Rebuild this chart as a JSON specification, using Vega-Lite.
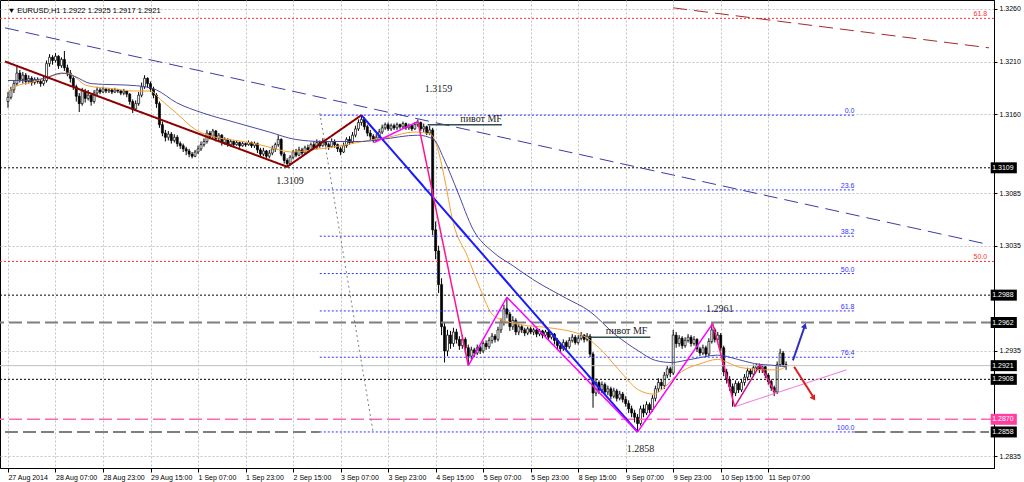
{
"$schema":"https://vega.github.io/schema/vega-lite/v6.json",
"width":994,"height":468,
"autosize":{"type":"none"},
"padding":{"left":0,"top":0,"right":30,"bottom":14},
"background":"#ffffff",
"resolve":{"scale":{"stroke":"independent","strokeDash":"independent","strokeWidth":"independent","fill":"independent"}},
"config":{"view":{"stroke":"#000000","strokeWidth":1},
"axis":{"labelFont":"Liberation Sans","labelFontSize":7,"labelColor":"#000","tickColor":"#000","domainColor":"#000","gridColor":"#c4c4c4","gridDash":[2,2],"title":null}},
"datasets":{
"bars":[
{"t":0,"o":1.3172,"h":1.3181,"l":1.3166,"c":1.3176},
{"t":1,"o":1.3176,"h":1.3186,"l":1.3174,"c":1.3183},
{"t":2,"o":1.3183,"h":1.3192,"l":1.3180,"c":1.3189},
{"t":3,"o":1.3189,"h":1.3205,"l":1.3187,"c":1.3199},
{"t":4,"o":1.3199,"h":1.3202,"l":1.3190,"c":1.3193},
{"t":5,"o":1.3193,"h":1.3200,"l":1.3189,"c":1.3197},
{"t":6,"o":1.3197,"h":1.3199,"l":1.3188,"c":1.3191},
{"t":7,"o":1.3191,"h":1.3197,"l":1.3189,"c":1.3194},
{"t":8,"o":1.3194,"h":1.3196,"l":1.3187,"c":1.3190},
{"t":9,"o":1.3190,"h":1.3195,"l":1.3188,"c":1.3193},
{"t":10,"o":1.3193,"h":1.3195,"l":1.3189,"c":1.3191},
{"t":11,"o":1.3191,"h":1.3193,"l":1.3186,"c":1.3189},
{"t":12,"o":1.3189,"h":1.3197,"l":1.3187,"c":1.3192},
{"t":13,"o":1.3192,"h":1.3211,"l":1.3190,"c":1.3208},
{"t":14,"o":1.3208,"h":1.3217,"l":1.3205,"c":1.3214},
{"t":15,"o":1.3214,"h":1.3216,"l":1.3207,"c":1.3211},
{"t":16,"o":1.3211,"h":1.3218,"l":1.3209,"c":1.3215},
{"t":17,"o":1.3215,"h":1.3216,"l":1.3203,"c":1.3206},
{"t":18,"o":1.3206,"h":1.3214,"l":1.3204,"c":1.3212},
{"t":19,"o":1.3212,"h":1.3220,"l":1.3201,"c":1.3204},
{"t":20,"o":1.3204,"h":1.3207,"l":1.3196,"c":1.3199},
{"t":21,"o":1.3199,"h":1.3202,"l":1.3190,"c":1.3194},
{"t":22,"o":1.3194,"h":1.3196,"l":1.3183,"c":1.3186},
{"t":23,"o":1.3186,"h":1.3188,"l":1.3172,"c":1.3177},
{"t":24,"o":1.3177,"h":1.3180,"l":1.3162,"c":1.3170},
{"t":25,"o":1.3170,"h":1.3185,"l":1.3168,"c":1.3182},
{"t":26,"o":1.3182,"h":1.3184,"l":1.3171,"c":1.3175},
{"t":27,"o":1.3175,"h":1.3183,"l":1.3173,"c":1.3178},
{"t":28,"o":1.3178,"h":1.3180,"l":1.3168,"c":1.3172},
{"t":29,"o":1.3172,"h":1.3183,"l":1.3170,"c":1.3180},
{"t":30,"o":1.3180,"h":1.3186,"l":1.3178,"c":1.3183},
{"t":31,"o":1.3183,"h":1.3185,"l":1.3179,"c":1.3181},
{"t":32,"o":1.3181,"h":1.3186,"l":1.3180,"c":1.3184},
{"t":33,"o":1.3184,"h":1.3185,"l":1.3180,"c":1.3182},
{"t":34,"o":1.3182,"h":1.3185,"l":1.3180,"c":1.3183},
{"t":35,"o":1.3183,"h":1.3184,"l":1.3179,"c":1.3181},
{"t":36,"o":1.3181,"h":1.3185,"l":1.3180,"c":1.3183},
{"t":37,"o":1.3183,"h":1.3184,"l":1.3180,"c":1.3182},
{"t":38,"o":1.3182,"h":1.3183,"l":1.3178,"c":1.3180},
{"t":39,"o":1.3180,"h":1.3184,"l":1.3178,"c":1.3182},
{"t":40,"o":1.3182,"h":1.3183,"l":1.3176,"c":1.3179},
{"t":41,"o":1.3179,"h":1.3180,"l":1.3169,"c":1.3172},
{"t":42,"o":1.3172,"h":1.3174,"l":1.3161,"c":1.3165},
{"t":43,"o":1.3165,"h":1.3173,"l":1.3163,"c":1.3170},
{"t":44,"o":1.3170,"h":1.3181,"l":1.3168,"c":1.3178},
{"t":45,"o":1.3178,"h":1.3190,"l":1.3176,"c":1.3186},
{"t":46,"o":1.3186,"h":1.3197,"l":1.3184,"c":1.3194},
{"t":47,"o":1.3194,"h":1.3195,"l":1.3185,"c":1.3189},
{"t":48,"o":1.3189,"h":1.3191,"l":1.3181,"c":1.3184},
{"t":49,"o":1.3184,"h":1.3186,"l":1.3175,"c":1.3178},
{"t":50,"o":1.3178,"h":1.3180,"l":1.3166,"c":1.3170},
{"t":51,"o":1.3170,"h":1.3172,"l":1.3147,"c":1.3150},
{"t":52,"o":1.3150,"h":1.3153,"l":1.3139,"c":1.3142},
{"t":53,"o":1.3142,"h":1.3145,"l":1.3134,"c":1.3138},
{"t":54,"o":1.3138,"h":1.3144,"l":1.3135,"c":1.3141},
{"t":55,"o":1.3141,"h":1.3143,"l":1.3132,"c":1.3135},
{"t":56,"o":1.3135,"h":1.3141,"l":1.3133,"c":1.3138},
{"t":57,"o":1.3138,"h":1.3140,"l":1.3129,"c":1.3132},
{"t":58,"o":1.3132,"h":1.3134,"l":1.3127,"c":1.3130},
{"t":59,"o":1.3130,"h":1.3132,"l":1.3124,"c":1.3127},
{"t":60,"o":1.3127,"h":1.3129,"l":1.3121,"c":1.3125},
{"t":61,"o":1.3125,"h":1.3127,"l":1.3119,"c":1.3122},
{"t":62,"o":1.3122,"h":1.3124,"l":1.3118,"c":1.3120},
{"t":63,"o":1.3120,"h":1.3126,"l":1.3119,"c":1.3124},
{"t":64,"o":1.3124,"h":1.3130,"l":1.3122,"c":1.3127},
{"t":65,"o":1.3127,"h":1.3134,"l":1.3125,"c":1.3131},
{"t":66,"o":1.3131,"h":1.3137,"l":1.3129,"c":1.3134},
{"t":67,"o":1.3134,"h":1.3145,"l":1.3132,"c":1.3142},
{"t":68,"o":1.3142,"h":1.3144,"l":1.3136,"c":1.3139},
{"t":69,"o":1.3139,"h":1.3146,"l":1.3137,"c":1.3144},
{"t":70,"o":1.3144,"h":1.3145,"l":1.3134,"c":1.3137},
{"t":71,"o":1.3137,"h":1.3142,"l":1.3134,"c":1.3140},
{"t":72,"o":1.3140,"h":1.3141,"l":1.3130,"c":1.3133},
{"t":73,"o":1.3133,"h":1.3138,"l":1.3131,"c":1.3136},
{"t":74,"o":1.3136,"h":1.3137,"l":1.3129,"c":1.3131},
{"t":75,"o":1.3131,"h":1.3136,"l":1.3129,"c":1.3134},
{"t":76,"o":1.3134,"h":1.3135,"l":1.3129,"c":1.3131},
{"t":77,"o":1.3131,"h":1.3135,"l":1.3130,"c":1.3133},
{"t":78,"o":1.3133,"h":1.3134,"l":1.3128,"c":1.3130},
{"t":79,"o":1.3130,"h":1.3134,"l":1.3129,"c":1.3132},
{"t":80,"o":1.3132,"h":1.3133,"l":1.3129,"c":1.3131},
{"t":81,"o":1.3131,"h":1.3135,"l":1.3130,"c":1.3133},
{"t":82,"o":1.3133,"h":1.3134,"l":1.3128,"c":1.3130},
{"t":83,"o":1.3130,"h":1.3134,"l":1.3128,"c":1.3132},
{"t":84,"o":1.3132,"h":1.3133,"l":1.3123,"c":1.3126},
{"t":85,"o":1.3126,"h":1.3128,"l":1.3119,"c":1.3122},
{"t":86,"o":1.3122,"h":1.3128,"l":1.3120,"c":1.3125},
{"t":87,"o":1.3125,"h":1.3126,"l":1.3117,"c":1.3120},
{"t":88,"o":1.3120,"h":1.3126,"l":1.3118,"c":1.3123},
{"t":89,"o":1.3123,"h":1.3130,"l":1.3121,"c":1.3127},
{"t":90,"o":1.3127,"h":1.3133,"l":1.3124,"c":1.3131},
{"t":91,"o":1.3131,"h":1.3140,"l":1.3129,"c":1.3136},
{"t":92,"o":1.3136,"h":1.3137,"l":1.3120,"c":1.3122},
{"t":93,"o":1.3122,"h":1.3124,"l":1.3113,"c":1.3116},
{"t":94,"o":1.3116,"h":1.3118,"l":1.3109,"c":1.3113},
{"t":95,"o":1.3113,"h":1.3121,"l":1.3111,"c":1.3119},
{"t":96,"o":1.3119,"h":1.3126,"l":1.3117,"c":1.3124},
{"t":97,"o":1.3124,"h":1.3127,"l":1.3119,"c":1.3121},
{"t":98,"o":1.3121,"h":1.3129,"l":1.3120,"c":1.3126},
{"t":99,"o":1.3126,"h":1.3128,"l":1.3121,"c":1.3123},
{"t":100,"o":1.3123,"h":1.3130,"l":1.3121,"c":1.3128},
{"t":101,"o":1.3128,"h":1.3131,"l":1.3124,"c":1.3126},
{"t":102,"o":1.3126,"h":1.3133,"l":1.3125,"c":1.3131},
{"t":103,"o":1.3131,"h":1.3134,"l":1.3126,"c":1.3128},
{"t":104,"o":1.3128,"h":1.3136,"l":1.3127,"c":1.3133},
{"t":105,"o":1.3133,"h":1.3135,"l":1.3128,"c":1.3130},
{"t":106,"o":1.3130,"h":1.3137,"l":1.3129,"c":1.3134},
{"t":107,"o":1.3134,"h":1.3136,"l":1.3129,"c":1.3131},
{"t":108,"o":1.3131,"h":1.3133,"l":1.3126,"c":1.3129},
{"t":109,"o":1.3129,"h":1.3137,"l":1.3128,"c":1.3134},
{"t":110,"o":1.3134,"h":1.3136,"l":1.3128,"c":1.3131},
{"t":111,"o":1.3131,"h":1.3132,"l":1.3124,"c":1.3127},
{"t":112,"o":1.3127,"h":1.3129,"l":1.3121,"c":1.3124},
{"t":113,"o":1.3124,"h":1.3133,"l":1.3123,"c":1.3130},
{"t":114,"o":1.3130,"h":1.3138,"l":1.3128,"c":1.3136},
{"t":115,"o":1.3136,"h":1.3139,"l":1.3131,"c":1.3133},
{"t":116,"o":1.3133,"h":1.3143,"l":1.3132,"c":1.3140},
{"t":117,"o":1.3140,"h":1.3149,"l":1.3138,"c":1.3146},
{"t":118,"o":1.3146,"h":1.3155,"l":1.3144,"c":1.3152},
{"t":119,"o":1.3152,"h":1.3159,"l":1.3149,"c":1.3155},
{"t":120,"o":1.3155,"h":1.3157,"l":1.3145,"c":1.3148},
{"t":121,"o":1.3148,"h":1.3150,"l":1.3139,"c":1.3142},
{"t":122,"o":1.3142,"h":1.3145,"l":1.3135,"c":1.3139},
{"t":123,"o":1.3139,"h":1.3141,"l":1.3133,"c":1.3135},
{"t":124,"o":1.3135,"h":1.3141,"l":1.3134,"c":1.3138},
{"t":125,"o":1.3138,"h":1.3146,"l":1.3136,"c":1.3143},
{"t":126,"o":1.3143,"h":1.3150,"l":1.3141,"c":1.3147},
{"t":127,"o":1.3147,"h":1.3152,"l":1.3145,"c":1.3150},
{"t":128,"o":1.3150,"h":1.3152,"l":1.3144,"c":1.3146},
{"t":129,"o":1.3146,"h":1.3151,"l":1.3144,"c":1.3149},
{"t":130,"o":1.3149,"h":1.3151,"l":1.3145,"c":1.3147},
{"t":131,"o":1.3147,"h":1.3152,"l":1.3145,"c":1.3150},
{"t":132,"o":1.3150,"h":1.3151,"l":1.3146,"c":1.3148},
{"t":133,"o":1.3148,"h":1.3153,"l":1.3146,"c":1.3151},
{"t":134,"o":1.3151,"h":1.3152,"l":1.3145,"c":1.3147},
{"t":135,"o":1.3147,"h":1.3151,"l":1.3145,"c":1.3149},
{"t":136,"o":1.3149,"h":1.3150,"l":1.3144,"c":1.3146},
{"t":137,"o":1.3146,"h":1.3152,"l":1.3145,"c":1.3150},
{"t":138,"o":1.3150,"h":1.3155,"l":1.3148,"c":1.3152},
{"t":139,"o":1.3152,"h":1.3153,"l":1.3144,"c":1.3146},
{"t":140,"o":1.3146,"h":1.3151,"l":1.3143,"c":1.3148},
{"t":141,"o":1.3148,"h":1.3149,"l":1.3140,"c":1.3142},
{"t":142,"o":1.3142,"h":1.3149,"l":1.3140,"c":1.3145},
{"t":143,"o":1.3145,"h":1.3147,"l":1.3045,"c":1.3050},
{"t":144,"o":1.3050,"h":1.3058,"l":1.3022,"c":1.3030},
{"t":145,"o":1.3030,"h":1.3035,"l":1.2990,"c":1.2998},
{"t":146,"o":1.2998,"h":1.3004,"l":1.2950,"c":1.2958},
{"t":147,"o":1.2958,"h":1.2962,"l":1.2924,"c":1.2935},
{"t":148,"o":1.2935,"h":1.2955,"l":1.2930,"c":1.2950},
{"t":149,"o":1.2950,"h":1.2954,"l":1.2937,"c":1.2942},
{"t":150,"o":1.2942,"h":1.2957,"l":1.2939,"c":1.2953},
{"t":151,"o":1.2953,"h":1.2956,"l":1.2942,"c":1.2946},
{"t":152,"o":1.2946,"h":1.2949,"l":1.2936,"c":1.2940},
{"t":153,"o":1.2940,"h":1.2950,"l":1.2937,"c":1.2946},
{"t":154,"o":1.2946,"h":1.2948,"l":1.2933,"c":1.2938},
{"t":155,"o":1.2938,"h":1.2941,"l":1.2921,"c":1.2930},
{"t":156,"o":1.2930,"h":1.2939,"l":1.2927,"c":1.2936},
{"t":157,"o":1.2936,"h":1.2938,"l":1.2929,"c":1.2933},
{"t":158,"o":1.2933,"h":1.2941,"l":1.2931,"c":1.2938},
{"t":159,"o":1.2938,"h":1.2940,"l":1.2932,"c":1.2935},
{"t":160,"o":1.2935,"h":1.2944,"l":1.2933,"c":1.2942},
{"t":161,"o":1.2942,"h":1.2945,"l":1.2936,"c":1.2939},
{"t":162,"o":1.2939,"h":1.2948,"l":1.2937,"c":1.2945},
{"t":163,"o":1.2945,"h":1.2952,"l":1.2942,"c":1.2949},
{"t":164,"o":1.2949,"h":1.2951,"l":1.2943,"c":1.2946},
{"t":165,"o":1.2946,"h":1.2958,"l":1.2944,"c":1.2955},
{"t":166,"o":1.2955,"h":1.2966,"l":1.2952,"c":1.2962},
{"t":167,"o":1.2962,"h":1.2979,"l":1.2959,"c":1.2975},
{"t":168,"o":1.2975,"h":1.2986,"l":1.2966,"c":1.2970},
{"t":169,"o":1.2970,"h":1.2972,"l":1.2954,"c":1.2958},
{"t":170,"o":1.2958,"h":1.2968,"l":1.2955,"c":1.2964},
{"t":171,"o":1.2964,"h":1.2966,"l":1.2950,"c":1.2953},
{"t":172,"o":1.2953,"h":1.2961,"l":1.2950,"c":1.2958},
{"t":173,"o":1.2958,"h":1.2960,"l":1.2952,"c":1.2955},
{"t":174,"o":1.2955,"h":1.2957,"l":1.2949,"c":1.2952},
{"t":175,"o":1.2952,"h":1.2958,"l":1.2950,"c":1.2956},
{"t":176,"o":1.2956,"h":1.2958,"l":1.2951,"c":1.2953},
{"t":177,"o":1.2953,"h":1.2957,"l":1.2950,"c":1.2955},
{"t":178,"o":1.2955,"h":1.2956,"l":1.2948,"c":1.2951},
{"t":179,"o":1.2951,"h":1.2956,"l":1.2949,"c":1.2954},
{"t":180,"o":1.2954,"h":1.2955,"l":1.2947,"c":1.2950},
{"t":181,"o":1.2950,"h":1.2955,"l":1.2948,"c":1.2953},
{"t":182,"o":1.2953,"h":1.2954,"l":1.2945,"c":1.2948},
{"t":183,"o":1.2948,"h":1.2953,"l":1.2946,"c":1.2951},
{"t":184,"o":1.2951,"h":1.2952,"l":1.2941,"c":1.2945},
{"t":185,"o":1.2945,"h":1.2947,"l":1.2936,"c":1.2940},
{"t":186,"o":1.2940,"h":1.2942,"l":1.2933,"c":1.2937},
{"t":187,"o":1.2937,"h":1.2946,"l":1.2935,"c":1.2943},
{"t":188,"o":1.2943,"h":1.2945,"l":1.2936,"c":1.2939},
{"t":189,"o":1.2939,"h":1.2948,"l":1.2937,"c":1.2945},
{"t":190,"o":1.2945,"h":1.2951,"l":1.2943,"c":1.2948},
{"t":191,"o":1.2948,"h":1.2950,"l":1.2941,"c":1.2943},
{"t":192,"o":1.2943,"h":1.2950,"l":1.2941,"c":1.2947},
{"t":193,"o":1.2947,"h":1.2953,"l":1.2945,"c":1.2950},
{"t":194,"o":1.2950,"h":1.2951,"l":1.2943,"c":1.2946},
{"t":195,"o":1.2946,"h":1.2952,"l":1.2944,"c":1.2949},
{"t":196,"o":1.2949,"h":1.2951,"l":1.2929,"c":1.2932},
{"t":197,"o":1.2932,"h":1.2934,"l":1.2881,"c":1.2895},
{"t":198,"o":1.2895,"h":1.2909,"l":1.2892,"c":1.2905},
{"t":199,"o":1.2905,"h":1.2907,"l":1.2894,"c":1.2898},
{"t":200,"o":1.2898,"h":1.2906,"l":1.2895,"c":1.2903},
{"t":201,"o":1.2903,"h":1.2905,"l":1.2893,"c":1.2896},
{"t":202,"o":1.2896,"h":1.2902,"l":1.2893,"c":1.2899},
{"t":203,"o":1.2899,"h":1.2901,"l":1.2889,"c":1.2892},
{"t":204,"o":1.2892,"h":1.2900,"l":1.2890,"c":1.2897},
{"t":205,"o":1.2897,"h":1.2899,"l":1.2887,"c":1.2890},
{"t":206,"o":1.2890,"h":1.2897,"l":1.2888,"c":1.2894},
{"t":207,"o":1.2894,"h":1.2896,"l":1.2886,"c":1.2889},
{"t":208,"o":1.2889,"h":1.2892,"l":1.2882,"c":1.2885},
{"t":209,"o":1.2885,"h":1.2888,"l":1.2876,"c":1.2880},
{"t":210,"o":1.2880,"h":1.2883,"l":1.2872,"c":1.2876},
{"t":211,"o":1.2876,"h":1.2879,"l":1.2867,"c":1.2872},
{"t":212,"o":1.2872,"h":1.2875,"l":1.2858,"c":1.2866},
{"t":213,"o":1.2866,"h":1.2883,"l":1.2864,"c":1.2880},
{"t":214,"o":1.2880,"h":1.2884,"l":1.2872,"c":1.2876},
{"t":215,"o":1.2876,"h":1.2887,"l":1.2874,"c":1.2884},
{"t":216,"o":1.2884,"h":1.2886,"l":1.2876,"c":1.2879},
{"t":217,"o":1.2879,"h":1.2893,"l":1.2877,"c":1.2890},
{"t":218,"o":1.2890,"h":1.2902,"l":1.2887,"c":1.2899},
{"t":219,"o":1.2899,"h":1.2909,"l":1.2896,"c":1.2905},
{"t":220,"o":1.2905,"h":1.2908,"l":1.2898,"c":1.2902},
{"t":221,"o":1.2902,"h":1.2915,"l":1.2899,"c":1.2912},
{"t":222,"o":1.2912,"h":1.2921,"l":1.2909,"c":1.2918},
{"t":223,"o":1.2918,"h":1.2920,"l":1.2910,"c":1.2914},
{"t":224,"o":1.2914,"h":1.2955,"l":1.2912,"c":1.2950},
{"t":225,"o":1.2950,"h":1.2953,"l":1.2938,"c":1.2942},
{"t":226,"o":1.2942,"h":1.2950,"l":1.2939,"c":1.2947},
{"t":227,"o":1.2947,"h":1.2949,"l":1.2937,"c":1.2940},
{"t":228,"o":1.2940,"h":1.2948,"l":1.2938,"c":1.2945},
{"t":229,"o":1.2945,"h":1.2951,"l":1.2943,"c":1.2948},
{"t":230,"o":1.2948,"h":1.2950,"l":1.2939,"c":1.2942},
{"t":231,"o":1.2942,"h":1.2949,"l":1.2940,"c":1.2946},
{"t":232,"o":1.2946,"h":1.2947,"l":1.2934,"c":1.2937},
{"t":233,"o":1.2937,"h":1.2939,"l":1.2930,"c":1.2933},
{"t":234,"o":1.2933,"h":1.2941,"l":1.2931,"c":1.2938},
{"t":235,"o":1.2938,"h":1.2940,"l":1.2929,"c":1.2932},
{"t":236,"o":1.2932,"h":1.2947,"l":1.2930,"c":1.2944},
{"t":237,"o":1.2944,"h":1.2961,"l":1.2942,"c":1.2955},
{"t":238,"o":1.2955,"h":1.2957,"l":1.2943,"c":1.2946},
{"t":239,"o":1.2946,"h":1.2953,"l":1.2943,"c":1.2950},
{"t":240,"o":1.2950,"h":1.2952,"l":1.2935,"c":1.2938},
{"t":241,"o":1.2938,"h":1.2940,"l":1.2911,"c":1.2915},
{"t":242,"o":1.2915,"h":1.2918,"l":1.2904,"c":1.2908},
{"t":243,"o":1.2908,"h":1.2911,"l":1.2897,"c":1.2901},
{"t":244,"o":1.2901,"h":1.2904,"l":1.2882,"c":1.2895},
{"t":245,"o":1.2895,"h":1.2907,"l":1.2892,"c":1.2904},
{"t":246,"o":1.2904,"h":1.2906,"l":1.2895,"c":1.2898},
{"t":247,"o":1.2898,"h":1.2908,"l":1.2896,"c":1.2905},
{"t":248,"o":1.2905,"h":1.2913,"l":1.2902,"c":1.2910},
{"t":249,"o":1.2910,"h":1.2919,"l":1.2907,"c":1.2916},
{"t":250,"o":1.2916,"h":1.2918,"l":1.2910,"c":1.2913},
{"t":251,"o":1.2913,"h":1.2922,"l":1.2911,"c":1.2919},
{"t":252,"o":1.2919,"h":1.2923,"l":1.2916,"c":1.2921},
{"t":253,"o":1.2921,"h":1.2923,"l":1.2914,"c":1.2917},
{"t":254,"o":1.2917,"h":1.2922,"l":1.2914,"c":1.2920},
{"t":255,"o":1.2920,"h":1.2921,"l":1.2909,"c":1.2912},
{"t":256,"o":1.2912,"h":1.2914,"l":1.2903,"c":1.2906},
{"t":257,"o":1.2906,"h":1.2908,"l":1.2897,"c":1.2900},
{"t":258,"o":1.2900,"h":1.2902,"l":1.2892,"c":1.2896},
{"t":259,"o":1.2896,"h":1.2925,"l":1.2894,"c":1.2922},
{"t":260,"o":1.2922,"h":1.2937,"l":1.2920,"c":1.2933},
{"t":261,"o":1.2933,"h":1.2935,"l":1.2920,"c":1.2922},
{"t":262,"o":1.2922,"h":1.2925,"l":1.2917,"c":1.2921}
],
"ma":[
{"t":0,"p":1.3181,"s":"fast"},{"t":2.3,"p":1.3186,"s":"fast"},{"t":9,"p":1.3191,"s":"fast"},{"t":15.7,"p":1.3197,"s":"fast"},{"t":20,"p":1.3199,"s":"fast"},{"t":26.7,"p":1.3187,"s":"fast"},{"t":35.7,"p":1.3184,"s":"fast"},{"t":42.3,"p":1.3182,"s":"fast"},{"t":48,"p":1.3182,"s":"fast"},{"t":51.3,"p":1.3174,"s":"fast"},{"t":56.7,"p":1.3161,"s":"fast"},{"t":63.3,"p":1.3145,"s":"fast"},{"t":70,"p":1.3138,"s":"fast"},{"t":76.7,"p":1.3135,"s":"fast"},{"t":83.3,"p":1.3132,"s":"fast"},{"t":90,"p":1.3127,"s":"fast"},{"t":95.7,"p":1.3124,"s":"fast"},{"t":102.3,"p":1.3126,"s":"fast"},{"t":110,"p":1.3129,"s":"fast"},{"t":121.3,"p":1.3135,"s":"fast"},{"t":128,"p":1.3138,"s":"fast"},{"t":136.7,"p":1.3143,"s":"fast"},{"t":142.3,"p":1.3141,"s":"fast"},{"t":144.7,"p":1.3127,"s":"fast"},{"t":146.7,"p":1.3103,"s":"fast"},{"t":150,"p":1.3056,"s":"fast"},{"t":154.7,"p":1.3025,"s":"fast"},{"t":159,"p":1.2994,"s":"fast"},{"t":163.3,"p":1.2969,"s":"fast"},{"t":168,"p":1.2963,"s":"fast"},{"t":172.3,"p":1.2960,"s":"fast"},{"t":182.3,"p":1.2957,"s":"fast"},{"t":193.3,"p":1.2950,"s":"fast"},{"t":199,"p":1.2938,"s":"fast"},{"t":205.7,"p":1.2917,"s":"fast"},{"t":212.3,"p":1.2898,"s":"fast"},{"t":217.3,"p":1.2894,"s":"fast"},{"t":221.3,"p":1.2901,"s":"fast"},{"t":225.7,"p":1.2913,"s":"fast"},{"t":230,"p":1.2920,"s":"fast"},{"t":232.3,"p":1.2922,"s":"fast"},{"t":239,"p":1.2927,"s":"fast"},{"t":242.3,"p":1.2924,"s":"fast"},{"t":245.7,"p":1.2920,"s":"fast"},{"t":250,"p":1.2918,"s":"fast"},{"t":254.7,"p":1.2917,"s":"fast"},{"t":259,"p":1.2917,"s":"fast"},{"t":262,"p":1.2920,"s":"fast"},
{"t":0,"p":1.3192,"s":"slow"},{"t":5.7,"p":1.3192,"s":"slow"},{"t":12.3,"p":1.3194,"s":"slow"},{"t":18,"p":1.3199,"s":"slow"},{"t":22.3,"p":1.3196,"s":"slow"},{"t":28,"p":1.3189,"s":"slow"},{"t":43.3,"p":1.3187,"s":"slow"},{"t":50,"p":1.3183,"s":"slow"},{"t":56.7,"p":1.3171,"s":"slow"},{"t":65.7,"p":1.3161,"s":"slow"},{"t":76.7,"p":1.3152,"s":"slow"},{"t":88,"p":1.3143,"s":"slow"},{"t":96.7,"p":1.3136,"s":"slow"},{"t":105.7,"p":1.3134,"s":"slow"},{"t":119,"p":1.3134,"s":"slow"},{"t":125.7,"p":1.3136,"s":"slow"},{"t":138,"p":1.3140,"s":"slow"},{"t":143.3,"p":1.3136,"s":"slow"},{"t":146.7,"p":1.3118,"s":"slow"},{"t":151.3,"p":1.3087,"s":"slow"},{"t":156.7,"p":1.3050,"s":"slow"},{"t":163.3,"p":1.3029,"s":"slow"},{"t":170,"p":1.3016,"s":"slow"},{"t":176.7,"p":1.3003,"s":"slow"},{"t":188,"p":1.2985,"s":"slow"},{"t":195.7,"p":1.2973,"s":"slow"},{"t":204.7,"p":1.2950,"s":"slow"},{"t":212.3,"p":1.2935,"s":"slow"},{"t":218,"p":1.2926,"s":"slow"},{"t":223.3,"p":1.2924,"s":"slow"},{"t":230,"p":1.2927,"s":"slow"},{"t":239,"p":1.2931,"s":"slow"},{"t":245.7,"p":1.2927,"s":"slow"},{"t":251.3,"p":1.2923,"s":"slow"},{"t":259,"p":1.2921,"s":"slow"},{"t":262,"p":1.2920,"s":"slow"}
],
"levels":[
{"p":1.3251,"g":"rd"},{"p":1.3020,"g":"rd"},{"p":1.3109,"g":"kd"},{"p":1.2988,"g":"kd"},{"p":1.2908,"g":"kd"},{"p":1.2962,"g":"gd"},{"p":1.2870,"g":"pd"},{"p":1.2921,"g":"bid"}
],
"seg":[
{"t":-1,"p":1.2858,"t2":105,"p2":1.2858,"g":"gd"},
{"t":285,"p":1.2858,"t2":330.33,"p2":1.2858,"g":"gd"},
{"t":105,"p":1.3159,"t2":285,"p2":1.3159,"g":"fb"},
{"t":105,"p":1.3088,"t2":285,"p2":1.3088,"g":"fb"},
{"t":105,"p":1.3044,"t2":285,"p2":1.3044,"g":"fb"},
{"t":105,"p":1.30085,"t2":285,"p2":1.30085,"g":"fb"},
{"t":105,"p":1.2973,"t2":285,"p2":1.2973,"g":"fb"},
{"t":105,"p":1.2929,"t2":285,"p2":1.2929,"g":"fb"},
{"t":105,"p":1.2858,"t2":285,"p2":1.2858,"g":"fb"},
{"t":105,"p":1.3161,"t2":123,"p2":1.2857,"g":"fd"},
{"t":-1,"p":1.3242,"t2":330.33,"p2":1.3036,"g":"cb"},
{"t":224,"p":1.3261,"t2":330.33,"p2":1.3223,"g":"cr"},
{"t":-1,"p":1.3210,"t2":94,"p2":1.3110,"g":"tr"},
{"t":94,"p":1.3110,"t2":119,"p2":1.3159,"g":"tr"},
{"t":119,"p":1.3159,"t2":212,"p2":1.2858,"g":"tb"},
{"t":123.3,"p":1.3133,"t2":138,"p2":1.3153,"g":"mg"},
{"t":138,"p":1.3153,"t2":155,"p2":1.2921,"g":"pk"},
{"t":155,"p":1.2921,"t2":168,"p2":1.2986,"g":"mg"},
{"t":168,"p":1.2986,"t2":212,"p2":1.2858,"g":"mg"},
{"t":212,"p":1.2858,"t2":237.3,"p2":1.2961,"g":"mg"},
{"t":237.3,"p":1.2961,"t2":244.7,"p2":1.2882,"g":"pk"},
{"t":244.7,"p":1.2882,"t2":253.3,"p2":1.2922,"g":"pu"},
{"t":253.3,"p":1.2922,"t2":258.3,"p2":1.2895,"g":"pk"},
{"t":244.7,"p":1.2882,"t2":282.3,"p2":1.2917,"g":"sp"},
{"t":141.3,"p":1.3150,"t2":166.3,"p2":1.3150,"g":"pv"},
{"t":195.3,"p":1.2948,"t2":216.3,"p2":1.2948,"g":"pv"},
{"t":264.3,"p":1.2926,"t2":268.1,"p2":1.2957,"g":"au"},
{"t":264.7,"p":1.2920,"t2":271,"p2":1.2892,"g":"ad"}
],
"notes":[
{"t":145,"p":1.3184,"lab":"1.3159"},{"t":95,"p":1.3096,"lab":"1.3109"},{"t":239.7,"p":1.2975,"lab":"1.2961"},{"t":213,"p":1.2842,"lab":"1.2858"},{"t":159.3,"p":1.3155,"lab":"пивот MF"},{"t":208.3,"p":1.2954,"lab":"пивот MF"}
],
"fiblab":[
{"p":1.3159,"lab":"0.0"},{"p":1.3088,"lab":"23.6"},{"p":1.3044,"lab":"38.2"},{"p":1.30085,"lab":"50.0"},{"p":1.2973,"lab":"61.8"},{"p":1.2929,"lab":"76.4"},{"p":1.2858,"lab":"100.0"}
],
"redlab":[{"p":1.3251,"lab":"61.8"},{"p":1.3020,"lab":"50.0"}],
"heads":[{"t":268.3,"p":1.2959,"g":"up"},{"t":271.3,"p":1.2890,"g":"down"}],
"tags":[
{"p":1.3109,"lab":"1.3109","g":"k"},{"p":1.2988,"lab":"1.2988","g":"k"},{"p":1.2962,"lab":"1.2962","g":"k"},{"p":1.2921,"lab":"1.2921","g":"k"},{"p":1.2908,"lab":"1.2908","g":"k"},{"p":1.2870,"lab":"1.2870","g":"pk"},{"p":1.2858,"lab":"1.2858","g":"k"}
],
"title":[{"p":1.3258,"lab":"▼ EURUSD,H1  1.2922 1.2925 1.2917 1.2921"}]
},
"layer":[
{"data":{"name":"bars"},"mark":{"type":"rule","color":"#000","strokeWidth":1},
"encoding":{
"x":{"field":"t","type":"quantitative","scale":{"domain":[-1,330.33],"nice":false,"zero":false},
"axis":{"orient":"bottom","values":[0,16,32,48,64,80,96,112,128,144,160,176,192,208,224,240,256],"labelExpr":"['27 Aug 2014','28 Aug 07:00','28 Aug 23:00','29 Aug 15:00','1 Sep 07:00','1 Sep 23:00','2 Sep 15:00','3 Sep 07:00','3 Sep 23:00','4 Sep 15:00','5 Sep 07:00','5 Sep 23:00','8 Sep 15:00','9 Sep 07:00','9 Sep 23:00','10 Sep 15:00','11 Sep 07:00'][round(datum.value/16)]","labelAlign":"left","labelBaseline":"top","labelPadding":1,"tickSize":4,"grid":true,"labelFlush":false,"labelOverlap":false,"labelBound":false}},
"y":{"field":"l","type":"quantitative","scale":{"domain":[1.28285,1.32637],"nice":false,"zero":false},
"axis":{"orient":"right","values":[1.2835,1.2885,1.2935,1.3010,1.3035,1.3060,1.3085,1.3135,1.3160,1.3185,1.3210,1.3235,1.3260],"format":".4f","tickSize":3,"labelPadding":2,"grid":true,"labelFlush":false,"labelOverlap":false,"labelBound":false}},
"y2":{"field":"h"}}},
{"data":{"name":"bars"},"mark":{"type":"bar","size":2,"stroke":"#000","strokeWidth":0.7},
"encoding":{"x":{"field":"t","type":"quantitative"},"y":{"field":"o","type":"quantitative"},"y2":{"field":"c"},
"fill":{"condition":{"test":"datum.c < datum.o","value":"#000000"},"value":"#ffffff"}}},
{"data":{"name":"levels"},"mark":{"type":"rule"},
"encoding":{"y":{"field":"p","type":"quantitative"},
"stroke":{"field":"g","type":"nominal","scale":{"domain":["rd","kd","gd","pd","bid"],"range":["#ff3030","#000000","#7f7f7f","#ff69b4","#c0c0c0"]},"legend":null},
"strokeDash":{"field":"g","type":"nominal","scale":{"domain":["rd","kd","gd","pd","bid"],"range":[[2,2],[2,2],[13,5],[13,5],[1,0]]},"legend":null},
"strokeWidth":{"field":"g","type":"nominal","scale":{"type":"ordinal","domain":["rd","kd","gd","pd","bid"],"range":[1,1,2,1.5,1]},"legend":null}}},
{"data":{"name":"ma"},"mark":{"type":"line","strokeWidth":1,"interpolate":"monotone"},
"encoding":{"x":{"field":"t","type":"quantitative"},"y":{"field":"p","type":"quantitative"},"detail":{"field":"s"},
"stroke":{"field":"s","type":"nominal","scale":{"domain":["fast","slow"],"range":["#f5a030","#4a4aa0"]},"legend":null}}},
{"data":{"name":"seg"},"mark":{"type":"rule"},
"encoding":{"x":{"field":"t","type":"quantitative"},"y":{"field":"p","type":"quantitative"},"x2":{"field":"t2"},"y2":{"field":"p2"},
"stroke":{"field":"g","type":"nominal","scale":{"domain":["gd","fb","fd","cb","cr","tr","tb","mg","pk","pu","sp","pv","au","ad"],"range":["#7f7f7f","#3333ff","#808080","#3c3ca8","#a52a2a","#8b0000","#1a1aff","#ff00ff","#ff1493","#c71585","#ee66dd","#2f4f4f","#3030c0","#e02020"]},"legend":null},
"strokeDash":{"field":"g","type":"nominal","scale":{"domain":["gd","fb","fd","cb","cr","tr","tb","mg","pk","pu","sp","pv","au","ad"],"range":[[13,5],[2,2],[2,3],[14,7],[14,7],[1,0],[1,0],[1,0],[1,0],[1,0],[1,0],[1,0],[1,0],[1,0]]},"legend":null},
"strokeWidth":{"field":"g","type":"nominal","scale":{"type":"ordinal","domain":["gd","fb","fd","cb","cr","tr","tb","mg","pk","pu","sp","pv","au","ad"],"range":[2,1,1,1,1,2,2,1.5,1.5,1.5,1,1.5,2,2]},"legend":null}}},
{"data":{"name":"heads"},"transform":[{"filter":"datum.g == 'up'"}],"mark":{"type":"point","shape":"triangle-up","filled":true,"size":40,"angle":19,"color":"#3030c0","opacity":1},
"encoding":{"x":{"field":"t","type":"quantitative"},"y":{"field":"p","type":"quantitative"}}},
{"data":{"name":"heads"},"transform":[{"filter":"datum.g == 'down'"}],"mark":{"type":"point","shape":"triangle-up","filled":true,"size":40,"angle":148,"color":"#e02020","opacity":1},
"encoding":{"x":{"field":"t","type":"quantitative"},"y":{"field":"p","type":"quantitative"}}},
{"data":{"name":"notes"},"mark":{"type":"text","font":"Liberation Serif","fontSize":10,"color":"#1a1a1a","align":"center","baseline":"middle"},
"encoding":{"x":{"field":"t","type":"quantitative"},"y":{"field":"p","type":"quantitative"},"text":{"field":"lab"}}},
{"data":{"name":"fiblab"},"mark":{"type":"text","font":"Liberation Sans","fontSize":7,"color":"#3333ff","align":"right","baseline":"bottom","dy":-1},
"encoding":{"x":{"datum":285,"type":"quantitative"},"y":{"field":"p","type":"quantitative"},"text":{"field":"lab"}}},
{"data":{"name":"redlab"},"mark":{"type":"text","font":"Liberation Sans","fontSize":7,"color":"#ff3030","align":"right","baseline":"bottom","dy":-1},
"encoding":{"x":{"datum":329.7,"type":"quantitative"},"y":{"field":"p","type":"quantitative"},"text":{"field":"lab"}}},
{"data":{"name":"title"},"mark":{"type":"text","font":"Liberation Sans","fontSize":7.5,"color":"#000","align":"left","baseline":"middle"},
"encoding":{"x":{"datum":-0.1,"type":"quantitative"},"y":{"field":"p","type":"quantitative"},"text":{"field":"lab"}}},
{"data":{"name":"tags"},"mark":{"type":"bar","orient":"horizontal","size":11},
"encoding":{"x":{"datum":330.9,"type":"quantitative"},"x2":{"datum":339.7},"y":{"field":"p","type":"quantitative"},
"fill":{"field":"g","type":"nominal","scale":{"domain":["k","pk"],"range":["#000000","#ff3fa0"]},"legend":null}}},
{"data":{"name":"tags"},"mark":{"type":"text","font":"Liberation Sans","fontSize":7,"color":"#ffffff","align":"left","baseline":"middle"},
"encoding":{"x":{"datum":331.4,"type":"quantitative"},"y":{"field":"p","type":"quantitative"},"text":{"field":"lab"}}}
]
}
